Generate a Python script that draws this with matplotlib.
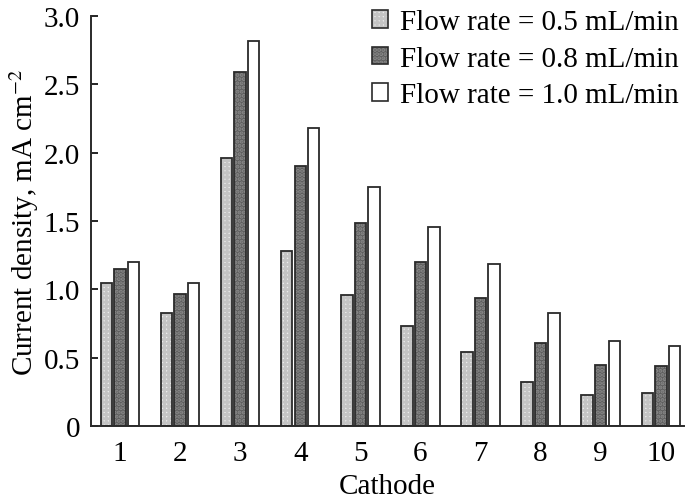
import numpy as np
import matplotlib
matplotlib.use("Agg")
import matplotlib.pyplot as plt
from matplotlib.ticker import FuncFormatter
from matplotlib.patches import Patch

plt.rcParams['font.family'] = ['Liberation Serif', 'DejaVu Serif']
plt.rcParams['mathtext.fontset'] = 'stix'
plt.rcParams['hatch.linewidth'] = 2.0

# DATA
cathodes = [1, 2, 3, 4, 5, 6, 7, 8, 9, 10]
flow_05 = [1.05, 0.83, 1.96, 1.28, 0.96, 0.73, 0.54, 0.32, 0.23, 0.24]
flow_08 = [1.15, 0.97, 2.59, 1.90, 1.49, 1.20, 0.94, 0.61, 0.45, 0.44]
flow_10 = [1.20, 1.05, 2.82, 2.18, 1.75, 1.46, 1.19, 0.83, 0.62, 0.59]
labels = ["Flow rate = 0.5 mL/min", "Flow rate = 0.8 mL/min", "Flow rate = 1.0 mL/min"]

fig = plt.figure(figsize=(6.85, 5.02), dpi=100)
ax = fig.add_axes([0.133, 0.149, 0.865, 0.817])

x = np.array(cathodes, dtype=float)
w = 0.19
step = 0.225
edge = "#2a2a2a"

# fill + hatch layer, then outline layer on top
styles = [
    dict(face="#ececec", hatch="++++", hc="#c4c4c4"),
    dict(face="#5e5e5e", hatch="....", hc="#8a8a8a"),
    dict(face="white", hatch=None, hc="white"),
]
series = [flow_05, flow_08, flow_10]
for i, (vals, st) in enumerate(zip(series, styles)):
    pos = x + (i - 1) * step
    ax.bar(pos, vals, width=w, color=st["face"], hatch=st["hatch"],
           edgecolor=st["hc"], linewidth=0, zorder=2)
    ax.bar(pos, vals, width=w, fill=False, edgecolor=edge,
           linewidth=1.3, zorder=3)

handles = []
for st in styles:
    fill = Patch(facecolor=st["face"], edgecolor=st["hc"], hatch=st["hatch"], linewidth=0)
    outline = Patch(fill=False, edgecolor=edge, linewidth=1.2)
    handles.append((fill, outline))
ax.legend(handles, labels, loc="upper right", frameon=False, fontsize=21,
          handlelength=0.55, handleheight=0.55, handletextpad=0.42,
          labelspacing=0.36, borderaxespad=0.0, bbox_to_anchor=(1.012, 1.045))

ax.set_xlim(0.52, 10.38)
ax.set_ylim(0, 3.0)
ax.set_xticks(cathodes)
ax.set_yticks([0, 0.5, 1.0, 1.5, 2.0, 2.5, 3.0])
ax.yaxis.set_major_formatter(FuncFormatter(lambda v, p: "0" if v == 0 else f"{v:.1f}"))
ax.tick_params(axis="y", direction="in", length=5, width=1.2, labelsize=21, pad=8)
ax.tick_params(axis="x", length=0, labelsize=21, pad=10)

for s in ["top", "right"]:
    ax.spines[s].set_visible(False)
for s in ["left", "bottom"]:
    ax.spines[s].set_linewidth(1.4)
    ax.spines[s].set_color(edge)

ax.set_xlabel("Cathode", fontsize=21, labelpad=5)
ax.set_ylabel("Current density, mA cm$^{-2}$", fontsize=21, labelpad=2)

fig.savefig("out.png", dpi=100)
